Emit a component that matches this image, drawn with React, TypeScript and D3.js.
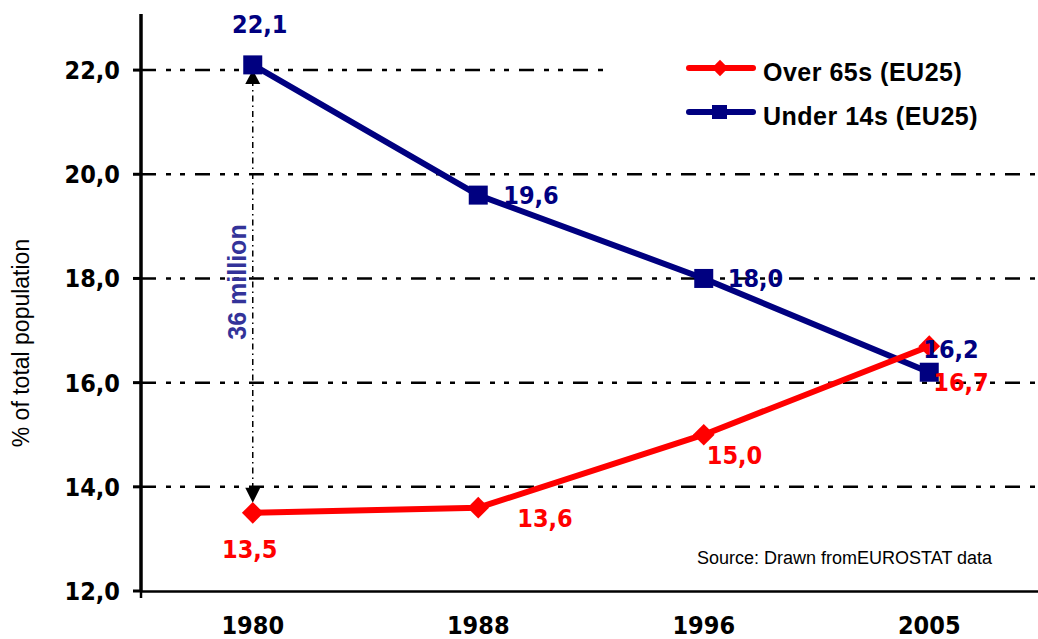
import React from 'react';
import * as d3 from 'd3';

const categories = ['1980', '1988', '1996', '2005'];
const over65 = [13.5, 13.6, 15.0, 16.7];
const under14 = [22.1, 19.6, 18.0, 16.2];
const yTicks = [12, 14, 16, 18, 20, 22];
const seriesNames = ['Over 65s (EU25)', 'Under 14s (EU25)'];
const gapLabel = '36 million';
const yTitle = '% of total population';
const sourceText = 'Source: Drawn fromEUROSTAT data';

// label placement offsets (layout only)
const blueLabelPos = [
  { dx: 7, dy: -32, anchor: 'middle' },
  { dx: 25, dy: 9, anchor: 'start' },
  { dx: 24, dy: 9, anchor: 'start' },
  { dx: -6, dy: -14, anchor: 'start' },
];
const redLabelPos = [
  { dx: -3, dy: 45, anchor: 'middle' },
  { dx: 39, dy: 19, anchor: 'start' },
  { dx: 3, dy: 29, anchor: 'start' },
  { dx: 4, dy: 45, anchor: 'start' },
];

const W = 1038;
const H = 639;
const RED = '#FF0000';
const BLUE = '#000080';
const LABEL_BLUE = '#333399';
const NUM_FONT = "'DejaVu Sans Condensed', 'DejaVu Sans', sans-serif";
const ARIAL = "'Liberation Sans', Arial, sans-serif";

const fmt = (v: number) => d3.format('.1f')(v).replace('.', ',');

export default function App() {
  const x = d3.scaleBand<string>().domain(categories).range([140, 1042]).padding(0);
  const cx = (c: string) => (x(c) as number) + x.bandwidth() / 2;
  const y = d3.scaleLinear().domain([12, 23]).range([591, 18]);
  const axisX = 141;
  const line = d3
    .line<number>()
    .x((_, i) => cx(categories[i]))
    .y((d) => y(d));

  const diamond = d3.symbol().type(d3.symbolDiamond2);
  const x0 = cx(categories[0]);
  const topTip = y(under14[0]) + 5;
  const botTip = y(over65[0]) - 10;

  return (
    <svg
      width={W}
      height={H}
      style={{ position: 'absolute', left: 0, top: 0, background: '#fff' }}
    >
      <rect x={0} y={0} width={W} height={H} fill="#fff" />
      {/* gridlines */}
      {yTicks
        .filter((t) => t !== 12)
        .map((t) => (
          <line
            key={'g' + t}
            x1={axisX}
            x2={W}
            y1={y(t)}
            y2={y(t)}
            stroke="#000"
            strokeWidth={2.5}
            strokeDasharray="15 10 5 9 5 10"
          />
        ))}
      {/* legend background */}
      <rect x={607} y={40} width={W - 607} height={110} fill="#fff" />
      {/* axes */}
      <line x1={axisX} x2={W} y1={591.5} y2={591.5} stroke="#000" strokeWidth={2.5} />
      <line x1={axisX} x2={axisX} y1={14} y2={592} stroke="#000" strokeWidth={3.5} />
      <line x1={axisX} x2={axisX} y1={591} y2={598} stroke="#000" strokeWidth={2.5} />
      {yTicks.map((t) => (
        <g key={'t' + t}>
          <line x1={133} x2={axisX} y1={y(t)} y2={y(t)} stroke="#000" strokeWidth={3} />
          <text
            x={120}
            y={y(t) + 9}
            textAnchor="end"
            fontFamily={NUM_FONT}
            fontWeight="bold"
            fontSize={25}
            style={{ fontStretch: 'condensed' }}
            fill="#000"
          >
            {fmt(t)}
          </text>
        </g>
      ))}
      {categories.map((c) => (
        <text
          key={'c' + c}
          x={cx(c)}
          y={634}
          textAnchor="middle"
          fontFamily={NUM_FONT}
          fontWeight="bold"
          fontSize={25}
          style={{ fontStretch: 'condensed' }}
          fill="#000"
        >
          {c}
        </text>
      ))}
      {/* y title */}
      <text
        transform={`translate(29,343) rotate(-90)`}
        textAnchor="middle"
        fontFamily={ARIAL}
        fontSize={23}
        fill="#000"
      >
        {yTitle}
      </text>
      {/* gap arrow */}
      <line
        x1={x0}
        x2={x0}
        y1={topTip + 10}
        y2={botTip - 12}
        stroke="#000"
        strokeWidth={1.5}
        strokeDasharray="6 4 1.5 4"
      />
      <path
        d={`M${x0},${topTip} L${x0 - 7.5},${topTip + 14} L${x0 + 7.5},${topTip + 14} Z`}
        fill="#000"
      />
      <path
        d={`M${x0},${botTip} L${x0 - 7.5},${botTip - 15} L${x0 + 7.5},${botTip - 15} Z`}
        fill="#000"
      />
      <text
        transform={`translate(246,282) rotate(-90)`}
        textAnchor="middle"
        fontFamily={ARIAL}
        fontWeight="bold"
        fontSize={25}
        fill={LABEL_BLUE}
      >
        {gapLabel}
      </text>
      {/* blue series */}
      <path d={line(under14) || ''} fill="none" stroke={BLUE} strokeWidth={6} strokeLinejoin="round" />
      {under14.map((v, i) => (
        <rect
          key={'bs' + i}
          x={cx(categories[i]) - 9.5}
          y={y(v) - 9.5}
          width={19}
          height={19}
          fill={BLUE}
        />
      ))}
      {/* red series */}
      <path d={line(over65) || ''} fill="none" stroke={RED} strokeWidth={6} strokeLinejoin="round" />
      {over65.map((v, i) => (
        <path
          key={'rd' + i}
          d={diamond.size(300)() || ''}
          transform={`translate(${cx(categories[i])},${y(v)})`}
          fill={RED}
        />
      ))}
      {/* labels */}
      {under14.map((v, i) => (
        <text
          key={'bl' + i}
          x={cx(categories[i]) + blueLabelPos[i].dx}
          y={y(v) + blueLabelPos[i].dy}
          textAnchor={blueLabelPos[i].anchor as any}
          fontFamily={NUM_FONT}
          fontWeight="bold"
          fontSize={25}
          style={{ fontStretch: 'condensed' }}
          fill={BLUE}
        >
          {fmt(v)}
        </text>
      ))}
      {over65.map((v, i) => (
        <text
          key={'rl' + i}
          x={cx(categories[i]) + redLabelPos[i].dx}
          y={y(v) + redLabelPos[i].dy}
          textAnchor={redLabelPos[i].anchor as any}
          fontFamily={NUM_FONT}
          fontWeight="bold"
          fontSize={25}
          style={{ fontStretch: 'condensed' }}
          fill={RED}
        >
          {fmt(v)}
        </text>
      ))}
      {/* legend */}
      {seriesNames.map((name, i) => {
        const ly = 68 + i * 44;
        const color = i === 0 ? RED : BLUE;
        return (
          <g key={'lg' + i}>
            <line x1={689} x2={753} y1={ly} y2={ly} stroke={color} strokeWidth={6} strokeLinecap="round" />
            {i === 0 ? (
              <path d={diamond.size(170)() || ''} transform={`translate(720,${ly})`} fill={color} />
            ) : (
              <rect x={712} y={ly - 7} width={15} height={14} fill={color} />
            )}
            <text
              x={763}
              y={ly + 13}
              fontFamily={ARIAL}
              fontWeight="bold"
              fontSize={25}
              letterSpacing={0.5}
              fill="#000"
            >
              {name}
            </text>
          </g>
        );
      })}
      <text x={697} y={564} fontFamily={ARIAL} fontSize={18} fill="#000">
        {sourceText}
      </text>
    </svg>
  );
}
